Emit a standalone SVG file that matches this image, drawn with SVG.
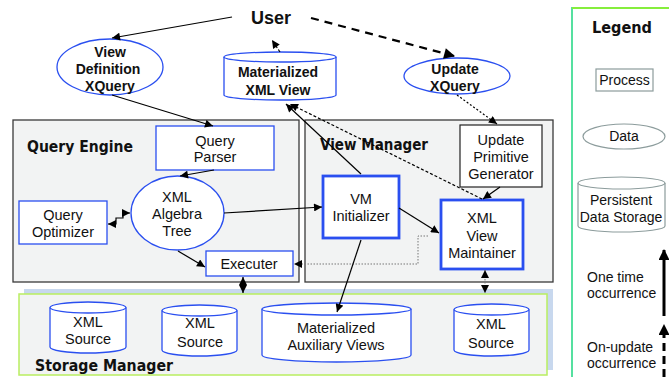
<svg xmlns="http://www.w3.org/2000/svg" width="669" height="377" viewBox="0 0 669 377">
<defs>
<marker id="ah" viewBox="0 0 10 10" refX="10" refY="5" markerWidth="9" markerHeight="8" orient="auto-start-reverse" markerUnits="userSpaceOnUse"><path d="M0,0 L10,5 L0,10 z" fill="#000"/></marker>
<marker id="ahb" viewBox="0 0 10 10" refX="9" refY="5" markerWidth="12" markerHeight="11" orient="auto-start-reverse" markerUnits="userSpaceOnUse"><path d="M0,0 L10,5 L0,10 z" fill="#000"/></marker>
<style>
.lbl{font-family:"Liberation Sans",Arial,sans-serif;font-size:14.5px;fill:#111;text-anchor:middle}
.blbl{font-family:"Liberation Sans",Arial,sans-serif;font-size:14px;font-weight:bold;fill:#111;text-anchor:middle}
.head{font-family:"DejaVu Sans",sans-serif;font-size:15px;font-weight:bold;fill:#111}
.leg{font-family:"Liberation Sans",Arial,sans-serif;font-size:14px;fill:#111}
.blue{fill:#fff;stroke:#2a4ff0;stroke-width:1.3}
.thick{fill:#fff;stroke:#2a4ff0;stroke-width:2.8}
.grey{fill:#fff;stroke:#8c9c9c;stroke-width:1.2}
.panel{fill:#f2f3f3;stroke:#3a3a3a;stroke-width:1.3}
.c{fill:none;stroke:#000;stroke-width:1.2}
</style>
</defs>
<rect width="669" height="377" fill="#fff"/>

<g id="query-engine"><rect class="panel" x="13" y="120" width="286" height="162"/><text class="head" x="27" y="152" textLength="106" lengthAdjust="spacingAndGlyphs">Query Engine</text></g>
<g id="view-manager"><rect class="panel" x="305" y="120" width="248" height="162"/><text class="head" x="320" y="150" textLength="108" lengthAdjust="spacingAndGlyphs">View Manager</text></g>
<g id="storage-manager"><rect x="24" y="289" width="529" height="81" fill="#c8d8ee"/><rect x="19" y="294" width="528" height="81" fill="#f2f3f3" stroke="#b9ee60" stroke-width="1.5"/><text class="head" x="35" y="371" textLength="138" lengthAdjust="spacingAndGlyphs">Storage Manager</text></g>

<g id="user"><text x="271" y="24" font-family="Liberation Sans,Arial,sans-serif" font-size="18" font-weight="bold" text-anchor="middle" fill="#111">User</text></g>

<g id="view-definition-xquery"><ellipse class="blue" cx="110" cy="67" rx="53" ry="28"/><text class="blbl" x="110" y="57">View</text><text class="blbl" x="108" y="74">Definition</text><text class="blbl" x="110" y="91">XQuery</text></g>

<g id="materialized-xml-view"><path class="blue" d="M224,57 V95 A56,5 0 0 0 336,95 V57"/><ellipse class="blue" cx="280" cy="57" rx="56" ry="5"/><text class="blbl" x="278" y="77">Materialized</text><text class="blbl" x="278" y="95">XML View</text></g>

<g id="update-xquery"><ellipse class="blue" cx="457" cy="76" rx="53" ry="18"/><text class="blbl" x="455" y="74">Update</text><text class="blbl" x="455" y="91">XQuery</text></g>

<g id="query-parser"><rect class="blue" x="156" y="126" width="118" height="44"/><text class="lbl" x="215" y="146">Query</text><text class="lbl" x="215" y="162">Parser</text></g>

<g id="xml-algebra-tree"><ellipse class="blue" cx="177.5" cy="213" rx="46.5" ry="37"/><text class="lbl" x="177" y="202">XML</text><text class="lbl" x="177" y="219">Algebra</text><text class="lbl" x="177" y="236">Tree</text></g>

<g id="query-optimizer"><rect class="blue" x="19" y="201" width="88" height="43"/><text class="lbl" x="63" y="220">Query</text><text class="lbl" x="63" y="237">Optimizer</text></g>

<g id="executer"><rect class="blue" x="206" y="251" width="87" height="25"/><text class="lbl" x="249" y="269">Executer</text></g>

<g id="vm-initializer"><rect class="thick" x="323" y="176" width="76" height="62"/><text class="lbl" x="361" y="204">VM</text><text class="lbl" x="361" y="221">Initializer</text></g>

<g id="xml-view-maintainer"><rect class="thick" x="441" y="200" width="82" height="69"/><text class="lbl" x="482" y="223">XML</text><text class="lbl" x="482" y="241">View</text><text class="lbl" x="482" y="258">Maintainer</text></g>

<g id="update-primitive-generator"><rect x="460" y="125" width="82" height="62" fill="#fff" stroke="#222" stroke-width="1.2"/><text class="lbl" x="501" y="145">Update</text><text class="lbl" x="501" y="162">Primitive</text><text class="lbl" x="501" y="179">Generator</text></g>

<g id="xml-source-1"><path class="blue" d="M50,307.5 V347 A38,6 0 0 0 126,347 V307.5"/><ellipse class="blue" cx="88" cy="307.5" rx="38" ry="5.5"/><text class="lbl" x="88" y="327">XML</text><text class="lbl" x="88" y="344">Source</text></g>
<g id="xml-source-2"><path class="blue" d="M162,310.5 V350 A37.5,6 0 0 0 237,350 V310.5"/><ellipse class="blue" cx="199.5" cy="310.5" rx="37.5" ry="5.5"/><text class="lbl" x="200" y="328">XML</text><text class="lbl" x="200" y="347">Source</text></g>
<g id="materialized-auxiliary-views"><path class="blue" d="M262,309 V355 A74.5,7 0 0 0 411,355 V309"/><ellipse class="blue" cx="336.5" cy="309" rx="74.5" ry="6"/><text class="lbl" x="336" y="333">Materialized</text><text class="lbl" x="336" y="350">Auxiliary Views</text></g>
<g id="xml-source-3"><path class="blue" d="M454,309.5 V350 A37.5,6 0 0 0 529,350 V309.5"/><ellipse class="blue" cx="491.5" cy="309.5" rx="37.5" ry="5.5"/><text class="lbl" x="491" y="329">XML</text><text class="lbl" x="491" y="348">Source</text></g>

<g id="connectors">
<path class="c" d="M232,17 L112,38" marker-end="url(#ah)"/>
<path d="M311,18 L454,56" fill="none" stroke="#000" stroke-width="2.2" stroke-dasharray="8,6" marker-end="url(#ahb)"/>
<path class="c" d="M280,52 L272,40" stroke-dasharray="3,2" marker-end="url(#ah)"/>
<path class="c" d="M112,95 L213,126" marker-end="url(#ah)"/>
<path class="c" d="M214,170 L180,176" marker-end="url(#ah)"/>
<path class="c" d="M108,224 H116 V218 H123 V213 H130" marker-start="url(#ah)" marker-end="url(#ah)"/>
<path class="c" d="M224,213 L322,207" marker-end="url(#ah)"/>
<path class="c" d="M178,251 L205,267" marker-end="url(#ah)"/>
<path class="c" d="M243,277 V293" marker-start="url(#ah)" marker-end="url(#ah)"/>
<path class="c" d="M361,174 L286,104" marker-end="url(#ah)"/>
<path class="c" d="M482,199 L290,104" stroke-width="1" stroke-dasharray="3,2" marker-end="url(#ah)"/>
<path class="c" d="M457,95 L497,124" stroke-width="1" stroke-dasharray="2,2" marker-end="url(#ah)"/>
<path class="c" d="M500,187 L483,199" marker-end="url(#ah)"/>
<path class="c" d="M399,208 L439,233" marker-end="url(#ah)"/>
<path d="M428,236 H418 V264 H294" fill="none" stroke="#777" stroke-width="1" stroke-dasharray="1.5,1.5" marker-end="url(#ah)"/>
<path d="M485,270 V293" fill="none" stroke="#777" stroke-width="1" stroke-dasharray="1.5,1.5" marker-start="url(#ah)" marker-end="url(#ah)"/>
<path class="c" d="M361,240 L337,312" marker-end="url(#ah)"/>
</g>

<g id="legend">
<rect x="572" y="8" width="110" height="380" fill="#fff" stroke="#55e0a0" stroke-width="2"/>
<line x1="572" y1="8" x2="669" y2="8" stroke="#86ee3c" stroke-width="2"/>
<text class="head" x="592" y="33" font-size="18" textLength="60" lengthAdjust="spacingAndGlyphs">Legend</text>
<rect class="grey" x="596" y="69" width="57" height="22"/><text class="leg" x="624.5" y="85" text-anchor="middle">Process</text>
<ellipse class="grey" cx="624" cy="136.5" rx="41" ry="12.5"/><text class="leg" x="624" y="141" text-anchor="middle">Data</text>
<path class="grey" d="M578,183 V226 A43.5,6 0 0 0 665,226 V183"/><ellipse class="grey" cx="621.5" cy="183" rx="43.5" ry="6"/>
<text class="leg" x="621" y="205" text-anchor="middle">Persistent</text><text class="leg" x="621" y="222" font-size="13.5" text-anchor="middle">Data Storage</text>
<text class="leg" x="587" y="282">One time</text><text class="leg" x="587" y="298">occurrence</text>
<path d="M664,316 V250" fill="none" stroke="#000" stroke-width="3" marker-end="url(#ahb)"/>
<text class="leg" x="587" y="352">On-update</text><text class="leg" x="587" y="368">occurrence</text>
<path d="M664,377 V325" fill="none" stroke="#000" stroke-width="3" stroke-dasharray="8,5" marker-end="url(#ahb)"/>
</g>
</svg>
